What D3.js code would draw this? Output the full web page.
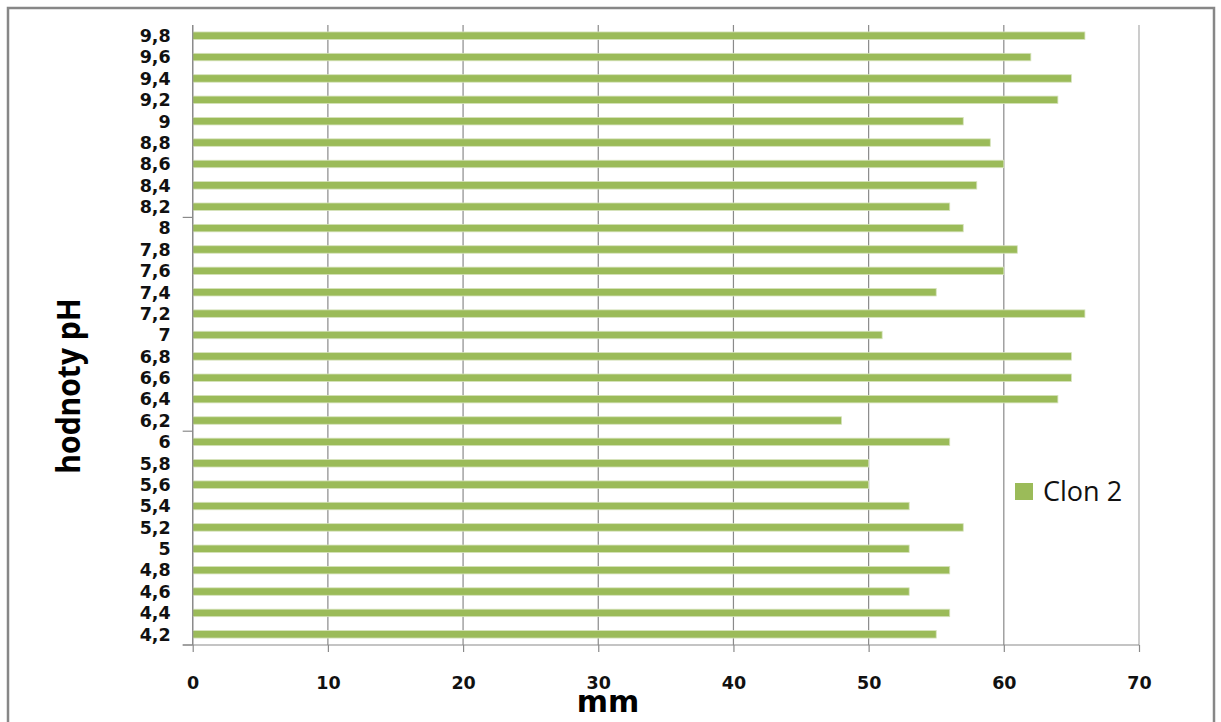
<!DOCTYPE html>
<html>
<head>
<meta charset="utf-8">
<script src="https://cdn.jsdelivr.net/npm/d3@7"></script>
<style>
  html, body { margin: 0; padding: 0; background: #fff; }
  svg { display: block; }
</style>
</head>
<body>
<svg id="chart" width="1221" height="722"></svg>
<script>
// pH categories (bottom to top) and measured zone diameters in mm
const categories = ["4,2","4,4","4,6","4,8","5","5,2","5,4","5,6","5,8","6",
                    "6,2","6,4","6,6","6,8","7","7,2","7,4","7,6","7,8","8",
                    "8,2","8,4","8,6","8,8","9","9,2","9,4","9,6","9,8"];
const clon2 = [55,56,53,56,53,57,53,50,50,56,
               48,64,65,65,51,66,55,60,61,57,
               56,58,60,59,57,64,65,62,66];
const xTicks = [0,10,20,30,40,50,60,70];
const seriesName = "Clon 2";
const xTitle = "mm";
const yTitle = "hodnoty pH";

const svg = d3.select("#chart");
const plot = { left: 192.7, right: 1139, top: 25, bottom: 645 };

// outer chart frame
svg.append("rect")
  .attr("x", 8).attr("y", 8)
  .attr("width", 1206).attr("height", 740)
  .attr("fill", "#fff")
  .attr("stroke", "#878787").attr("stroke-width", 2.5);

const x = d3.scaleLinear().domain([0, 70]).range([plot.left, plot.right]);
const y = d3.scaleBand().domain(categories).range([plot.bottom, plot.top])
  .paddingInner(0.65).paddingOuter(0.325);

// vertical gridlines
svg.append("g").selectAll("line").data(xTicks).join("line")
  .attr("x1", d => x(d)).attr("x2", d => x(d))
  .attr("y1", plot.top).attr("y2", plot.bottom)
  .attr("stroke", d => d === 70 ? "#ababab" : "#8a8a8a")
  .attr("stroke-width", 1.2);

// bars
svg.append("g").selectAll("rect").data(categories).join("rect")
  .attr("x", x(0))
  .attr("y", (d) => y(d))
  .attr("width", (d, i) => x(clon2[i]) - x(0))
  .attr("height", y.bandwidth())
  .attr("fill", "#9bbb59")
  .attr("stroke", "#d6e3bc").attr("stroke-width", 0.8);

// x axis
const xAxis = d3.axisBottom(x).tickValues(xTicks).tickSize(7).tickPadding(25)
  .tickFormat(d3.format("d"));
const gx = svg.append("g").attr("transform", `translate(0,${plot.bottom})`).call(xAxis);
gx.select(".domain").attr("stroke", "#8a8a8a").attr("stroke-width", 1.2)
  .attr("d", `M${plot.left - 10},0H${plot.right}`);
gx.selectAll(".tick line").attr("stroke", "#8a8a8a").attr("stroke-width", 1.2);
gx.selectAll(".tick text")
  .attr("font-family", "DejaVu Sans").attr("font-weight", "bold")
  .attr("font-size", 17.5).attr("fill", "#111");

// y axis: labels on every category, tick marks every ten categories
const yAxis = d3.axisLeft(y).tickSize(0).tickPadding(22);
const gy = svg.append("g").attr("transform", `translate(${plot.left},0)`).call(yAxis);
gy.select(".domain").attr("stroke", "#8a8a8a").attr("stroke-width", 1.2)
  .attr("d", `M0,${plot.top}V${plot.bottom}`);
gy.selectAll(".tick text")
  .attr("font-family", "DejaVu Sans").attr("font-weight", "bold")
  .attr("font-size", 17.5).attr("fill", "#111").attr("dy", "0.36em");
const step = y.step();
svg.append("g").selectAll("line").data([0, 10, 20]).join("line")
  .attr("x1", plot.left - 10).attr("x2", plot.left)
  .attr("y1", k => plot.bottom - k * step).attr("y2", k => plot.bottom - k * step)
  .attr("stroke", "#8a8a8a").attr("stroke-width", 1.2);

// axis titles
svg.append("text")
  .attr("x", 608).attr("y", 712)
  .attr("text-anchor", "middle")
  .attr("font-family", "DejaVu Sans").attr("font-weight", "bold")
  .attr("font-size", 30).attr("fill", "#000")
  .text(xTitle);

svg.append("text")
  .attr("transform", "translate(80,386) rotate(-90) scale(1,1.1)")
  .attr("text-anchor", "middle")
  .attr("font-family", "Open Sans").attr("font-weight", "bold")
  .attr("font-size", 30).attr("fill", "#000")
  .text(yTitle);

// legend
const legend = svg.append("g").attr("transform", "translate(1015,483)");
legend.append("rect").attr("width", 18).attr("height", 17).attr("fill", "#9bbb59");
legend.append("text")
  .attr("x", 28).attr("y", 18)
  .attr("font-family", "Open Sans").attr("font-size", 27).attr("fill", "#111")
  .text(seriesName);
</script>
</body>
</html>
